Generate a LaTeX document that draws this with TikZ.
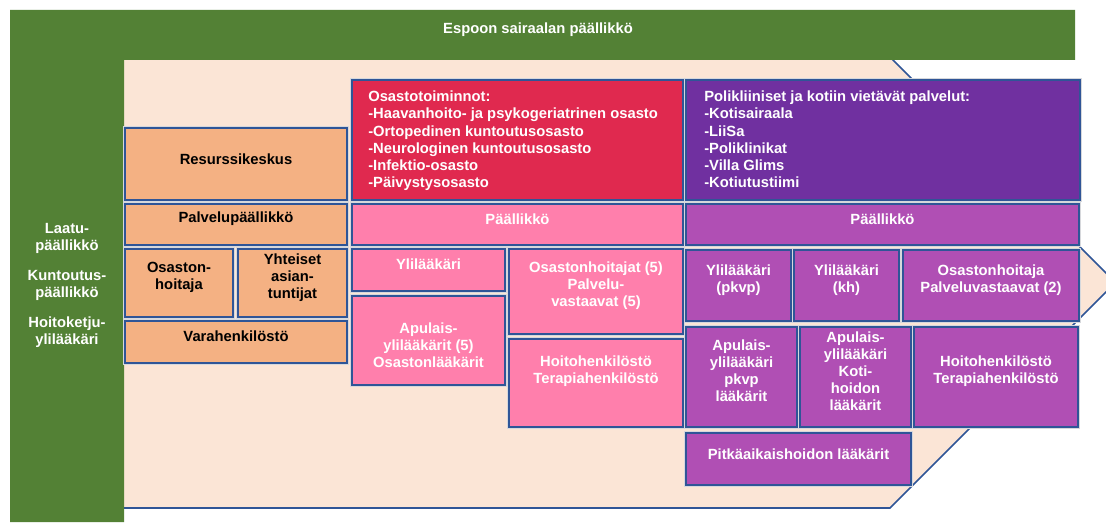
\documentclass[tikz,border=0pt]{standalone}
\usepackage{fontspec}
\setmainfont{Liberation Sans}
\usetikzlibrary{fit}
\definecolor{espgreen}{HTML}{538135}
\definecolor{peach}{HTML}{FBE5D6}
\definecolor{navy}{HTML}{2F5597}
\definecolor{gapgrey}{HTML}{D6D8DC}
\definecolor{orangebox}{HTML}{F4B183}
\definecolor{redbox}{HTML}{E0294F}
\definecolor{pinkbox}{HTML}{FF7FAC}
\definecolor{darkpurple}{HTML}{7030A0}
\definecolor{purplebox}{HTML}{B04FB4}
\begin{document}
\begin{tikzpicture}[x=0.025cm, y=-0.025cm,
	every node/.style={font=\bfseries\fontsize{10.5}{12.1}\selectfont, inner sep=0pt},
	box/.style={draw=navy, line width=1.4pt, align=center, text=white,
		preaction={draw=gapgrey, line width=3.2pt}},
	obox/.style={box, fill=orangebox, text=black},
	pbox/.style={box, fill=pinkbox},
	vbox/.style={box, fill=purplebox},
	txt/.style={align=center, text=white}]
	\useasboundingbox (0,0) rectangle (1106,524);
	% background arrow and green frame
	\filldraw[fill=peach, draw=navy, line width=1.1pt] (100,50) -- (883,50) -- (1115.5,282.5) -- (890,508) -- (100,508) -- cycle;
	\fill[espgreen] (10,10) -- (1075,10) -- (1075,60) -- (124,60) -- (124,522) -- (10,522) -- cycle;
	\node[text=white](chief) at (538,29.5){Espoon sairaalan päällikkö};
	\node[txt](staff) at (67,285.5){Laatu-\\päällikkö\\[9pt]Kuntoutus-\\päällikkö\\[9pt]Hoitoketju-\\ylilääkäri};
	% resource centre
	\node[obox, fit={(125,128) (347,200)}](resurs){};
	\node[txt, text=black](resurstxt) at ([yshift=3.6pt]resurs.center){Resurssikeskus};
	\node[obox, fit={(125,204) (347,245)}](palvelu){Palvelupäällikkö};
	\node[obox, fit={(125,249) (233,317)}](ohoitaja){};
	\node[txt, text=black](ohoitajatxt) at ([yshift=4.3pt]ohoitaja.center){Osaston-\\hoitaja};
	\node[obox, fit={(238,249) (347,317)}](yhteiset){Yhteiset\\asian-\\tuntijat};
	\node[obox, fit={(125,321) (347,363)}](vara){Varahenkilöstö};
	% wards
	\node[box, fill=redbox, fit={(352,80) (683,200)}](osasto){};
	\node[text=white, anchor=north west, align=left](osastotxt) at (368,91){Osastotoiminnot:\\-Haavanhoito- ja psykogeriatrinen osasto\\-Ortopedinen kuntoutusosasto\\-Neurologinen kuntoutusosasto\\-Infektio-osasto\\-Päivystysosasto};
	\node[pbox, fit={(352,204) (683,245)}](ppaal){Päällikkö};
	\node[pbox, fit={(352,249) (505,291)}](pyli){Ylilääkäri};
	\node[pbox, fit={(352,296) (505,385)}](papu){};
	\node[txt](paputxt) at ([yshift=-3.6pt]papu.center){Apulais-\\ylilääkärit (5)\\Osastonlääkärit};
	\node[pbox, fit={(509,249) (683,334)}](pohoit){Osastonhoitajat (5)\\Palvelu-\\vastaavat (5)};
	\node[pbox, fit={(509,339) (683,427)}](phenk){};
	\node[txt](phenktxt) at ([yshift=8.5pt]phenk.center){Hoitohenkilöstö\\Terapiahenkilöstö};
	% outpatient and home services
	\node[box, fill=darkpurple, fit={(686,80) (1080,200)}](poli){};
	\node[text=white, anchor=north west, align=left](politxt) at (704,91){Polikliiniset ja kotiin vietävät palvelut:\\-Kotisairaala\\-LiiSa\\-Poliklinikat\\-Villa Glims\\-Kotiutustiimi};
	\node[vbox, fit={(686,204) (1079,245)}](kpaal){Päällikkö};
	\node[vbox, fit={(686,250) (791,321)}](kyli){};
	\node[txt](kylitxt) at ([yshift=3.6pt]kyli.center){Ylilääkäri\\(pkvp)};
	\node[vbox, fit={(794,250) (899,321)}](kylikh){};
	\node[txt](kylikhtxt) at ([yshift=3.6pt]kylikh.center){Ylilääkäri\\(kh)};
	\node[vbox, fit={(903,250) (1079,321)}](kohoit){Osastonhoitaja\\Palveluvastaavat (2)};
	\node[vbox, fit={(686,327) (797,427)}](kapu){};
	\node[txt](kaputxt) at ([yshift=4.3pt]kapu.center){Apulais-\\ylilääkäri\\pkvp\\lääkärit};
	\node[vbox, fit={(800,327) (911,427)}](kapukoti){Apulais-\\ylilääkäri\\Koti-\\hoidon\\lääkärit};
	\node[vbox, fit={(914,327) (1078,427)}](khenk){Hoitohenkilöstö\\Terapiahenkilöstö};
	\node[vbox, fit={(686,433) (911,485)}](kpitka){};
	\node[txt](kpitkatxt) at ([yshift=3.6pt]kpitka.center){Pitkäaikaishoidon lääkärit};
\end{tikzpicture}
\end{document}
